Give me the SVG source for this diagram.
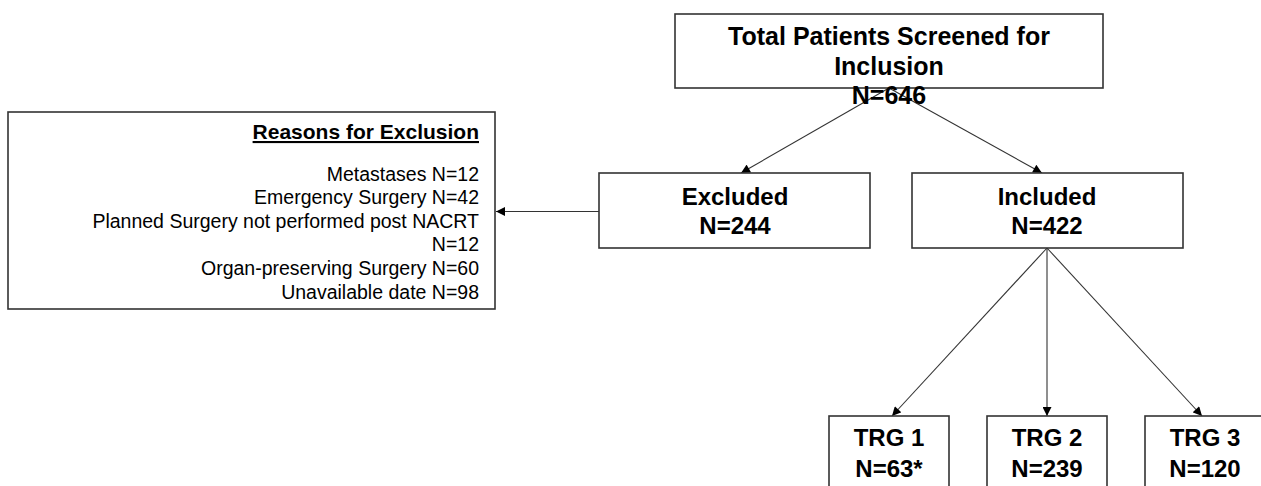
<svg xmlns="http://www.w3.org/2000/svg" width="1261" height="486" viewBox="0 0 1261 486">
<defs>
<style>
.box{fill:#fff;stroke:#333;stroke-width:1.6}
.b{font-family:"Liberation Sans",Arial,sans-serif;font-weight:bold;font-size:24px;fill:#000;text-anchor:middle}
.r{font-family:"Liberation Sans",Arial,sans-serif;font-size:19.5px;fill:#000;text-anchor:end}
.ln{stroke:#333;stroke-width:1.1;fill:none;marker-end:url(#ah)}
</style>
<marker id="ah" viewBox="0 0 10 10" refX="10" refY="5" markerWidth="10" markerHeight="9" markerUnits="userSpaceOnUse" orient="auto">
<path d="M0,0 L10,5 L0,10 z" fill="#000"/>
</marker>
</defs>
<rect width="1261" height="486" fill="#fff"/>
<g id="connectors">
<line class="ln" x1="889" y1="88" x2="741" y2="173"/>
<line class="ln" x1="889" y1="88" x2="1042" y2="173"/>
<line class="ln" x1="599" y1="211.5" x2="496" y2="211.5"/>
<line class="ln" x1="1047" y1="248" x2="892" y2="416"/>
<line class="ln" x1="1047" y1="248" x2="1047" y2="416"/>
<line class="ln" x1="1047" y1="248" x2="1202" y2="416"/>
</g>
<g id="total">
<rect class="box" x="675" y="14" width="428" height="74"/>
<text class="b" x="889" y="45" style="font-size:25px">Total Patients Screened for</text>
<text class="b" x="889" y="75" style="font-size:25px">Inclusion</text>
<text class="b" x="889" y="104" style="font-size:25px">N=646</text>
</g>
<g id="excluded">
<rect class="box" x="599" y="173" width="271" height="75"/>
<text class="b" x="735" y="205">Excluded</text>
<text class="b" x="735" y="234">N=244</text>
</g>
<g id="included">
<rect class="box" x="912" y="173" width="271" height="75"/>
<text class="b" x="1047" y="205">Included</text>
<text class="b" x="1047" y="234">N=422</text>
</g>
<g id="reasons">
<rect class="box" x="8" y="112" width="487" height="197"/>
<text class="r" x="479" y="139" style="font-weight:bold;font-size:21px;text-decoration:underline">Reasons for Exclusion</text>
<text class="r" x="479" y="180.5">Metastases N=12</text>
<text class="r" x="479" y="204">Emergency Surgery N=42</text>
<text class="r" x="479" y="227.5">Planned Surgery not performed post NACRT</text>
<text class="r" x="479" y="251">N=12</text>
<text class="r" x="479" y="275">Organ-preserving Surgery N=60</text>
<text class="r" x="479" y="298.5">Unavailable date N=98</text>
</g>
<g id="trg1">
<rect class="box" x="829" y="416" width="120" height="80"/>
<text class="b" x="889" y="446">TRG 1</text>
<text class="b" x="889" y="477">N=63*</text>
</g>
<g id="trg2">
<rect class="box" x="987" y="416" width="120" height="80"/>
<text class="b" x="1047" y="446">TRG 2</text>
<text class="b" x="1047" y="477">N=239</text>
</g>
<g id="trg3">
<rect class="box" x="1145" y="416" width="130" height="80"/>
<text class="b" x="1205" y="446">TRG 3</text>
<text class="b" x="1205" y="477">N=120</text>
</g>
</svg>
